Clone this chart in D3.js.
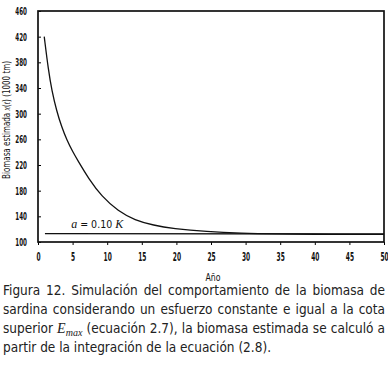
<!DOCTYPE html>
<html>
<head>
<meta charset="utf-8">
<script src="https://cdn.jsdelivr.net/npm/d3@7"></script>
<style>
  body { margin: 0; background: #fff; }
  svg { display: block; }
</style>
</head>
<body>
<svg id="chart" width="388" height="368"></svg>
<script>

// Data
const years = [0.9, 1.5, 2, 2.7, 3.4, 4.2, 5, 5.8, 7.3, 9.2, 11.6, 14, 16.7, 19.5, 24.4, 29.2, 35, 40, 45, 50];
const biomass = [420, 368, 336, 304, 280, 258, 241, 226, 199, 171, 148, 134, 126, 121, 116, 113.5, 112.5, 112, 112, 112];
const refYears = [1, 50];
const refBiomass = [113, 112.5];
const xTicks = [0, 5, 10, 15, 20, 25, 30, 35, 40, 45, 50];
const yTicks = [100, 140, 180, 220, 260, 300, 340, 380, 420, 460];
const captionLines = [
    "Figura 12. Simulación del comportamiento de la biomasa de",
    "sardina considerando un esfuerzo constante e igual a la cota",
    null, // built with E_max below
    "partir de la integración de la ecuación (2.8)."
];

const narrow = '"DejaVu Sans Condensed", "Liberation Sans Narrow", sans-serif';
const serif = '"Liberation Serif", "DejaVu Serif", serif';

const svg = d3.select("#chart");
const margin = {left: 38, right: 4, top: 11, bottom: 126};
const W = 388, H = 368;

// Scales
const x = d3.scaleLinear().domain([0, 50]).range([margin.left, W - margin.right]);
const y = d3.scaleLinear().domain([100, 460]).range([H - margin.bottom, margin.top]);

// Condensed look for the small labels
const squeeze = (sel, perChar) => sel
    .attr("font-family", narrow).attr("font-weight", "bold").attr("fill", "#111")
    .attr("lengthAdjust", "spacingAndGlyphs")
    .attr("textLength", function() { return this.textContent.length * perChar; });

// Axes
svg.append("g")
    .attr("transform", `translate(0, ${y(100)})`)
    .call(d3.axisBottom(x).tickValues(xTicks).tickSize(3).tickPadding(8).tickFormat(d3.format("d")))
    .call(g => g.select(".domain").remove())
    .call(g => squeeze(g.selectAll("text").attr("font-size", 11.5), 4.1));
svg.append("g")
    .attr("transform", `translate(${x(0)}, 0)`)
    .call(d3.axisLeft(y).tickValues(yTicks).tickSize(-3).tickPadding(11).tickFormat(d3.format("d")))
    .call(g => g.select(".domain").remove())
    .call(g => squeeze(g.selectAll("text").attr("font-size", 11), 3.9));

// Frame
svg.append("rect")
    .attr("x", x(0)).attr("y", y(460))
    .attr("width", x(50) - x(0)).attr("height", y(100) - y(460))
    .attr("fill", "none").attr("stroke", "#111").attr("stroke-width", 1.7);

// Curves
const line = d3.line()
    .x(d => x(d[0]))
    .y(d => y(d[1]))
    .curve(d3.curveBasis);
svg.append("path")
    .datum(d3.zip(years, biomass))
    .attr("fill", "none").attr("stroke", "#111").attr("stroke-width", 1.3)
    .attr("d", line);
svg.append("path")
    .datum(d3.zip(refYears, refBiomass))
    .attr("fill", "none").attr("stroke", "#111").attr("stroke-width", 1.3)
    .attr("d", line);

// Annotation a = 0.10 K
const ann = svg.append("text")
    .attr("x", x(4.8)).attr("y", y(121.5))
    .attr("font-size", 12).attr("fill", "#111");
ann.append("tspan").attr("font-family", serif).attr("font-style", "italic").text("a");
ann.append("tspan").attr("font-family", narrow).attr("font-size", 10.5).text(" = 0.10 ");
ann.append("tspan").attr("font-family", serif).attr("font-style", "italic").text("K");

// Axis titles
svg.append("text")
    .attr("x", 213).attr("y", 281)
    .attr("text-anchor", "middle")
    .attr("font-family", narrow).attr("font-size", 10).attr("fill", "#111")
    .attr("lengthAdjust", "spacingAndGlyphs").attr("textLength", 15)
    .text("Año");
const yl = svg.append("text")
    .attr("transform", "translate(10, 120) rotate(-90)")
    .attr("text-anchor", "middle")
    .attr("font-family", narrow).attr("font-size", 10).attr("fill", "#111")
    .attr("lengthAdjust", "spacingAndGlyphs").attr("textLength", 118);
yl.append("tspan").text("Biomasa estimada ");
yl.append("tspan").attr("font-family", serif).attr("font-style", "italic").text("x");
yl.append("tspan").text("(");
yl.append("tspan").attr("font-family", serif).attr("font-style", "italic").text("t");
yl.append("tspan").text(") (1000 tm)");

// Caption, justified like the printed figure
const capX = 3, capW = 382, capY = 295, capStep = 19;
captionLines.forEach((txt, i) => {
    const t = svg.append("text")
        .attr("x", capX).attr("y", capY + i * capStep)
        .attr("font-family", narrow).attr("font-size", 13.5).attr("fill", "#222");
    if (txt !== null) {
        t.text(txt);
    } else {
        t.append("tspan").text("superior ");
        t.append("tspan").attr("font-family", serif).attr("font-style", "italic").attr("font-size", 14).text("E");
        t.append("tspan").attr("font-family", serif).attr("font-style", "italic").attr("font-size", 10)
            .attr("dy", 3).text("max");
        t.append("tspan").attr("dy", -3).text(" (ecuación 2.7), la biomasa estimada se calculó a");
    }
    if (i < captionLines.length - 1) {
        const len = t.node().getComputedTextLength();
        const spaces = t.text().split(" ").length - 1;
        t.attr("word-spacing", (capW - len) / spaces);
    }
});
</script>
</body>
</html>
